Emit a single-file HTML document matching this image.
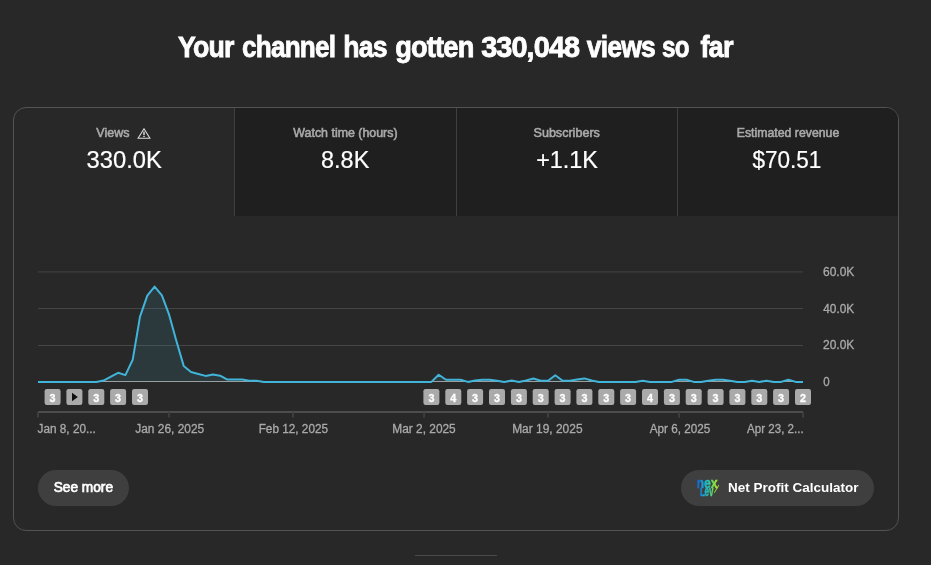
<!DOCTYPE html>
<html lang="en"><head><meta charset="utf-8"><title>Channel analytics</title>
<style>
html,body{margin:0;padding:0;background:#282828;}
body{width:931px;height:565px;position:relative;overflow:hidden;font-family:"Liberation Sans", sans-serif;}
.abs{position:absolute;}
.t{position:absolute;display:block;text-align:center;white-space:nowrap;}
h1{margin:0;font:inherit;}
.card{position:absolute;left:13px;top:107px;width:884px;height:422px;border:1px solid #535353;border-radius:13px;overflow:hidden;background:#282828;}
.tab{position:absolute;top:0;height:108px;background:#1f1f1f;}
.div{position:absolute;top:0;width:1px;height:108px;background:#3f3f3f;}
.btn{position:absolute;height:36px;border-radius:18px;background:#3f3f3f;}
</style></head><body>
<div class="card">
  <div class="tab" style="left:221px;width:663px"></div>
  <div class="div" style="left:220px"></div>
  <div class="div" style="left:442px"></div>
  <div class="div" style="left:663px"></div>
</div>
<svg class="abs" style="left:0;top:0" width="931" height="565" viewBox="0 0 931 565">
<rect x="38" y="271.4" width="765" height="1" fill="#454545"/>
<rect x="38" y="308.0" width="765" height="1" fill="#454545"/>
<rect x="38" y="345.0" width="765" height="1" fill="#454545"/>
<path d="M38.0 381.9 L45.3 381.9 L52.6 381.9 L59.9 381.9 L67.1 381.9 L74.4 381.9 L81.7 381.9 L89.0 381.9 L96.3 381.9 L103.6 380.6 L110.9 376.7 L118.1 372.8 L125.4 375.1 L132.7 359.8 L140.0 316.7 L147.3 295.7 L154.6 286.6 L161.9 295.3 L169.1 314.7 L176.4 341.1 L183.7 365.9 L191.0 372.0 L198.3 374.0 L205.6 375.9 L212.9 374.6 L220.1 375.7 L227.4 379.6 L234.7 379.6 L242.0 379.6 L249.3 380.8 L256.6 380.8 L263.9 381.9 L271.1 381.9 L278.4 381.9 L285.7 381.9 L293.0 381.9 L300.3 381.9 L307.6 381.9 L314.9 381.9 L322.1 381.9 L329.4 381.9 L336.7 381.9 L344.0 381.9 L351.3 381.9 L358.6 381.9 L365.9 381.9 L373.1 381.9 L380.4 381.9 L387.7 381.9 L395.0 381.9 L402.3 381.9 L409.6 381.9 L416.9 381.9 L424.1 381.9 L431.4 381.9 L438.7 374.7 L446.0 379.8 L453.3 379.8 L460.6 379.8 L467.9 381.9 L475.1 380.6 L482.4 379.8 L489.7 379.8 L497.0 380.7 L504.3 381.9 L511.6 380.6 L518.9 381.9 L526.1 380.5 L533.4 378.5 L540.7 380.7 L548.0 380.7 L555.3 375.3 L562.6 380.7 L569.9 380.7 L577.1 379.6 L584.4 378.4 L591.7 380.5 L599.0 381.9 L606.3 381.9 L613.6 381.9 L620.9 381.9 L628.1 381.9 L635.4 381.9 L642.7 380.7 L650.0 381.9 L657.3 381.9 L664.6 381.9 L671.9 381.9 L679.1 379.8 L686.4 379.8 L693.7 381.9 L701.0 381.9 L708.3 380.7 L715.6 379.8 L722.9 379.8 L730.1 380.7 L737.4 381.9 L744.7 381.9 L752.0 380.7 L759.3 381.9 L766.6 380.7 L773.9 381.9 L781.1 381.9 L788.4 379.8 L795.7 381.9 L803.0 381.9 L803 382 L38 382 Z" fill="#41b4d9" fill-opacity="0.12"/>
<rect x="38" y="381" width="765" height="1" fill="#9a9fa0"/>
<path d="M38.0 381.9 L45.3 381.9 L52.6 381.9 L59.9 381.9 L67.1 381.9 L74.4 381.9 L81.7 381.9 L89.0 381.9 L96.3 381.9 L103.6 380.6 L110.9 376.7 L118.1 372.8 L125.4 375.1 L132.7 359.8 L140.0 316.7 L147.3 295.7 L154.6 286.6 L161.9 295.3 L169.1 314.7 L176.4 341.1 L183.7 365.9 L191.0 372.0 L198.3 374.0 L205.6 375.9 L212.9 374.6 L220.1 375.7 L227.4 379.6 L234.7 379.6 L242.0 379.6 L249.3 380.8 L256.6 380.8 L263.9 381.9 L271.1 381.9 L278.4 381.9 L285.7 381.9 L293.0 381.9 L300.3 381.9 L307.6 381.9 L314.9 381.9 L322.1 381.9 L329.4 381.9 L336.7 381.9 L344.0 381.9 L351.3 381.9 L358.6 381.9 L365.9 381.9 L373.1 381.9 L380.4 381.9 L387.7 381.9 L395.0 381.9 L402.3 381.9 L409.6 381.9 L416.9 381.9 L424.1 381.9 L431.4 381.9 L438.7 374.7 L446.0 379.8 L453.3 379.8 L460.6 379.8 L467.9 381.9 L475.1 380.6 L482.4 379.8 L489.7 379.8 L497.0 380.7 L504.3 381.9 L511.6 380.6 L518.9 381.9 L526.1 380.5 L533.4 378.5 L540.7 380.7 L548.0 380.7 L555.3 375.3 L562.6 380.7 L569.9 380.7 L577.1 379.6 L584.4 378.4 L591.7 380.5 L599.0 381.9 L606.3 381.9 L613.6 381.9 L620.9 381.9 L628.1 381.9 L635.4 381.9 L642.7 380.7 L650.0 381.9 L657.3 381.9 L664.6 381.9 L671.9 381.9 L679.1 379.8 L686.4 379.8 L693.7 381.9 L701.0 381.9 L708.3 380.7 L715.6 379.8 L722.9 379.8 L730.1 380.7 L737.4 381.9 L744.7 381.9 L752.0 380.7 L759.3 381.9 L766.6 380.7 L773.9 381.9 L781.1 381.9 L788.4 379.8 L795.7 381.9 L803.0 381.9" fill="none" stroke="#41b4d9" stroke-width="2" stroke-linejoin="round" stroke-linecap="butt"/>
<rect x="38" y="411" width="765" height="2" fill="#4d4d4d"/>
<rect x="37.0" y="412" width="2" height="5.6" fill="#3e3e3e"/>
<rect x="168.1" y="412" width="2" height="5.6" fill="#3e3e3e"/>
<rect x="292.0" y="412" width="2" height="5.6" fill="#3e3e3e"/>
<rect x="423.1" y="412" width="2" height="5.6" fill="#3e3e3e"/>
<rect x="547.0" y="412" width="2" height="5.6" fill="#3e3e3e"/>
<rect x="678.1" y="412" width="2" height="5.6" fill="#3e3e3e"/>
<rect x="802.0" y="412" width="2" height="5.6" fill="#3e3e3e"/>
<rect x="44.6" y="389" width="16" height="16" rx="2.2" fill="#aaaaaa"/>
<text transform="translate(52.6 401.5) scale(1.08 1)" text-anchor="middle" font-family="Liberation Sans, sans-serif" font-weight="700" font-size="10.0" fill="#ffffff" stroke="#ffffff" stroke-width="0.3">3</text>
<rect x="66.4" y="389" width="16" height="16" rx="2.2" fill="#aaaaaa"/>
<path d="M72.0 392.8 L72.0 401.2 L77.8 397 Z" fill="#0f0f0f"/>
<rect x="88.3" y="389" width="16" height="16" rx="2.2" fill="#aaaaaa"/>
<text transform="translate(96.3 401.5) scale(1.08 1)" text-anchor="middle" font-family="Liberation Sans, sans-serif" font-weight="700" font-size="10.0" fill="#ffffff" stroke="#ffffff" stroke-width="0.3">3</text>
<rect x="110.1" y="389" width="16" height="16" rx="2.2" fill="#aaaaaa"/>
<text transform="translate(118.1 401.5) scale(1.08 1)" text-anchor="middle" font-family="Liberation Sans, sans-serif" font-weight="700" font-size="10.0" fill="#ffffff" stroke="#ffffff" stroke-width="0.3">3</text>
<rect x="132.0" y="389" width="16" height="16" rx="2.2" fill="#aaaaaa"/>
<text transform="translate(140.0 401.5) scale(1.08 1)" text-anchor="middle" font-family="Liberation Sans, sans-serif" font-weight="700" font-size="10.0" fill="#ffffff" stroke="#ffffff" stroke-width="0.3">3</text>
<rect x="423.4" y="389" width="16" height="16" rx="2.2" fill="#aaaaaa"/>
<text transform="translate(431.4 401.5) scale(1.08 1)" text-anchor="middle" font-family="Liberation Sans, sans-serif" font-weight="700" font-size="10.0" fill="#ffffff" stroke="#ffffff" stroke-width="0.3">3</text>
<rect x="445.3" y="389" width="16" height="16" rx="2.2" fill="#aaaaaa"/>
<text transform="translate(453.3 401.5) scale(1.08 1)" text-anchor="middle" font-family="Liberation Sans, sans-serif" font-weight="700" font-size="10.0" fill="#ffffff" stroke="#ffffff" stroke-width="0.3">4</text>
<rect x="467.1" y="389" width="16" height="16" rx="2.2" fill="#aaaaaa"/>
<text transform="translate(475.1 401.5) scale(1.08 1)" text-anchor="middle" font-family="Liberation Sans, sans-serif" font-weight="700" font-size="10.0" fill="#ffffff" stroke="#ffffff" stroke-width="0.3">3</text>
<rect x="489.0" y="389" width="16" height="16" rx="2.2" fill="#aaaaaa"/>
<text transform="translate(497.0 401.5) scale(1.08 1)" text-anchor="middle" font-family="Liberation Sans, sans-serif" font-weight="700" font-size="10.0" fill="#ffffff" stroke="#ffffff" stroke-width="0.3">3</text>
<rect x="510.9" y="389" width="16" height="16" rx="2.2" fill="#aaaaaa"/>
<text transform="translate(518.9 401.5) scale(1.08 1)" text-anchor="middle" font-family="Liberation Sans, sans-serif" font-weight="700" font-size="10.0" fill="#ffffff" stroke="#ffffff" stroke-width="0.3">3</text>
<rect x="532.7" y="389" width="16" height="16" rx="2.2" fill="#aaaaaa"/>
<text transform="translate(540.7 401.5) scale(1.08 1)" text-anchor="middle" font-family="Liberation Sans, sans-serif" font-weight="700" font-size="10.0" fill="#ffffff" stroke="#ffffff" stroke-width="0.3">3</text>
<rect x="554.6" y="389" width="16" height="16" rx="2.2" fill="#aaaaaa"/>
<text transform="translate(562.6 401.5) scale(1.08 1)" text-anchor="middle" font-family="Liberation Sans, sans-serif" font-weight="700" font-size="10.0" fill="#ffffff" stroke="#ffffff" stroke-width="0.3">3</text>
<rect x="576.4" y="389" width="16" height="16" rx="2.2" fill="#aaaaaa"/>
<text transform="translate(584.4 401.5) scale(1.08 1)" text-anchor="middle" font-family="Liberation Sans, sans-serif" font-weight="700" font-size="10.0" fill="#ffffff" stroke="#ffffff" stroke-width="0.3">3</text>
<rect x="598.3" y="389" width="16" height="16" rx="2.2" fill="#aaaaaa"/>
<text transform="translate(606.3 401.5) scale(1.08 1)" text-anchor="middle" font-family="Liberation Sans, sans-serif" font-weight="700" font-size="10.0" fill="#ffffff" stroke="#ffffff" stroke-width="0.3">3</text>
<rect x="620.1" y="389" width="16" height="16" rx="2.2" fill="#aaaaaa"/>
<text transform="translate(628.1 401.5) scale(1.08 1)" text-anchor="middle" font-family="Liberation Sans, sans-serif" font-weight="700" font-size="10.0" fill="#ffffff" stroke="#ffffff" stroke-width="0.3">3</text>
<rect x="642.0" y="389" width="16" height="16" rx="2.2" fill="#aaaaaa"/>
<text transform="translate(650.0 401.5) scale(1.08 1)" text-anchor="middle" font-family="Liberation Sans, sans-serif" font-weight="700" font-size="10.0" fill="#ffffff" stroke="#ffffff" stroke-width="0.3">4</text>
<rect x="663.9" y="389" width="16" height="16" rx="2.2" fill="#aaaaaa"/>
<text transform="translate(671.9 401.5) scale(1.08 1)" text-anchor="middle" font-family="Liberation Sans, sans-serif" font-weight="700" font-size="10.0" fill="#ffffff" stroke="#ffffff" stroke-width="0.3">3</text>
<rect x="685.7" y="389" width="16" height="16" rx="2.2" fill="#aaaaaa"/>
<text transform="translate(693.7 401.5) scale(1.08 1)" text-anchor="middle" font-family="Liberation Sans, sans-serif" font-weight="700" font-size="10.0" fill="#ffffff" stroke="#ffffff" stroke-width="0.3">3</text>
<rect x="707.6" y="389" width="16" height="16" rx="2.2" fill="#aaaaaa"/>
<text transform="translate(715.6 401.5) scale(1.08 1)" text-anchor="middle" font-family="Liberation Sans, sans-serif" font-weight="700" font-size="10.0" fill="#ffffff" stroke="#ffffff" stroke-width="0.3">3</text>
<rect x="729.4" y="389" width="16" height="16" rx="2.2" fill="#aaaaaa"/>
<text transform="translate(737.4 401.5) scale(1.08 1)" text-anchor="middle" font-family="Liberation Sans, sans-serif" font-weight="700" font-size="10.0" fill="#ffffff" stroke="#ffffff" stroke-width="0.3">3</text>
<rect x="751.3" y="389" width="16" height="16" rx="2.2" fill="#aaaaaa"/>
<text transform="translate(759.3 401.5) scale(1.08 1)" text-anchor="middle" font-family="Liberation Sans, sans-serif" font-weight="700" font-size="10.0" fill="#ffffff" stroke="#ffffff" stroke-width="0.3">3</text>
<rect x="773.1" y="389" width="16" height="16" rx="2.2" fill="#aaaaaa"/>
<text transform="translate(781.1 401.5) scale(1.08 1)" text-anchor="middle" font-family="Liberation Sans, sans-serif" font-weight="700" font-size="10.0" fill="#ffffff" stroke="#ffffff" stroke-width="0.3">3</text>
<rect x="795.0" y="389" width="16" height="16" rx="2.2" fill="#aaaaaa"/>
<text transform="translate(803.0 401.5) scale(1.08 1)" text-anchor="middle" font-family="Liberation Sans, sans-serif" font-weight="700" font-size="10.0" fill="#ffffff" stroke="#ffffff" stroke-width="0.3">2</text>
</svg>
<div class="btn" style="left:38px;top:470px;width:91px"></div>
<div class="btn" style="left:681px;top:470px;width:193px"></div>
<svg class="abs" style="left:136px;top:126px" width="16" height="14" viewBox="0 0 16 14"><path d="M8 2.8 L13.9 12.15 L2.1 12.15 Z" fill="none" stroke="#dcdcdc" stroke-width="1.05" stroke-linejoin="miter"/><rect x="7.3" y="5.6" width="1.4" height="3.5" fill="#e4e4e4"/><rect x="7.3" y="9.9" width="1.4" height="1.1" fill="#e4e4e4"/></svg>
<svg class="abs" style="left:694px;top:476px" width="30" height="24" viewBox="0 0 30 24">
<defs><linearGradient id="lg" gradientUnits="userSpaceOnUse" x1="2.5" y1="0" x2="24" y2="0"><stop offset="0" stop-color="#1458c8"/><stop offset="0.3" stop-color="#1a9fd8"/><stop offset="0.55" stop-color="#22c8b8"/><stop offset="0.8" stop-color="#7fe048"/><stop offset="1" stop-color="#b8ec2c"/></linearGradient></defs>
<g fill="url(#lg)" stroke="url(#lg)" stroke-width="0.45" font-family="Liberation Sans, sans-serif" font-weight="700">
<text x="2.4" y="12.1" font-size="15.5" textLength="21.2" lengthAdjust="spacingAndGlyphs">nex</text>
<text x="5.9" y="20" font-size="11.4" textLength="5" lengthAdjust="spacingAndGlyphs">L</text>
<text x="10.4" y="20" font-size="15" textLength="9" lengthAdjust="spacingAndGlyphs">ev</text>
<path d="M19.9 16.6 L24.6 8.8 L25.1 9.4 L20.6 16.9 Z" stroke="none"/>
</g></svg>
<h1>
<span class="t" style="left:-194.22px;top:28.28px;width:800px;height:38px;line-height:38px;font-size:29.5px;font-weight:700;color:#ffffff;"><span id="tw0" style="display:inline-block;white-space:nowrap;transform:scaleX(0.9049);letter-spacing:-0.9px;-webkit-text-stroke:0.8px #fff;">Your</span></span>
<span class="t" style="left:-111.79px;top:28.28px;width:800px;height:38px;line-height:38px;font-size:29.5px;font-weight:700;color:#ffffff;"><span id="tw1" style="display:inline-block;white-space:nowrap;transform:scaleX(0.8856);letter-spacing:-0.9px;-webkit-text-stroke:0.8px #fff;">channel</span></span>
<span class="t" style="left:-34.55px;top:28.28px;width:800px;height:38px;line-height:38px;font-size:29.5px;font-weight:700;color:#ffffff;"><span id="tw2" style="display:inline-block;white-space:nowrap;transform:scaleX(0.9031);letter-spacing:-0.9px;-webkit-text-stroke:0.8px #fff;">has</span></span>
<span class="t" style="left:34.37px;top:28.28px;width:800px;height:38px;line-height:38px;font-size:29.5px;font-weight:700;color:#ffffff;"><span id="tw3" style="display:inline-block;white-space:nowrap;transform:scaleX(0.9240);letter-spacing:-0.9px;-webkit-text-stroke:0.8px #fff;">gotten</span></span>
<span class="t" style="left:130.09px;top:28.28px;width:800px;height:38px;line-height:38px;font-size:29.5px;font-weight:700;color:#ffffff;"><span id="tw4" style="display:inline-block;white-space:nowrap;transform:scaleX(0.9773);letter-spacing:-0.9px;-webkit-text-stroke:0.8px #fff;">330,048</span></span>
<span class="t" style="left:221.19px;top:28.28px;width:800px;height:38px;line-height:38px;font-size:29.5px;font-weight:700;color:#ffffff;"><span id="tw5" style="display:inline-block;white-space:nowrap;transform:scaleX(0.8991);letter-spacing:-0.9px;-webkit-text-stroke:0.8px #fff;">views</span></span>
<span class="t" style="left:275.36px;top:28.28px;width:800px;height:38px;line-height:38px;font-size:29.5px;font-weight:700;color:#ffffff;"><span id="tw6" style="display:inline-block;white-space:nowrap;transform:scaleX(0.8233);letter-spacing:-0.9px;-webkit-text-stroke:0.8px #fff;">so</span></span>
<span class="t" style="left:316.24px;top:28.28px;width:800px;height:38px;line-height:38px;font-size:29.5px;font-weight:700;color:#ffffff;"><span id="tw7" style="display:inline-block;white-space:nowrap;transform:scaleX(0.9211);letter-spacing:-0.9px;-webkit-text-stroke:0.8px #fff;">far</span></span>
</h1>
<span class="t" style="left:-286.74px;top:125.23px;width:800px;height:16px;line-height:16px;font-size:12px;font-weight:400;color:#aaaaaa;"><span id="l1" style="display:inline-block;white-space:nowrap;transform:scaleX(1.0417);-webkit-text-stroke:0.55px #aaaaaa;">Views</span></span>
<span class="t" style="left:-54.54px;top:125.23px;width:800px;height:16px;line-height:16px;font-size:12px;font-weight:400;color:#aaaaaa;"><span id="l2" style="display:inline-block;white-space:nowrap;transform:scaleX(1.0330);-webkit-text-stroke:0.55px #aaaaaa;">Watch time (hours)</span></span>
<span class="t" style="left:166.59px;top:125.23px;width:800px;height:16px;line-height:16px;font-size:12px;font-weight:400;color:#aaaaaa;"><span id="l3" style="display:inline-block;white-space:nowrap;transform:scaleX(1.0470);-webkit-text-stroke:0.55px #aaaaaa;">Subscribers</span></span>
<span class="t" style="left:388.15px;top:125.23px;width:800px;height:16px;line-height:16px;font-size:12px;font-weight:400;color:#aaaaaa;"><span id="l4" style="display:inline-block;white-space:nowrap;transform:scaleX(1.0249);-webkit-text-stroke:0.55px #aaaaaa;">Estimated revenue</span></span>
<span class="t" style="left:-275.36px;top:145.14px;width:800px;height:31px;line-height:31px;font-size:23.5px;font-weight:400;color:#ffffff;"><span id="v1" style="display:inline-block;white-space:nowrap;transform:scaleX(1.0103);-webkit-text-stroke:0.2px #ffffff;">330.0K</span></span>
<span class="t" style="left:-54.75px;top:145.14px;width:800px;height:31px;line-height:31px;font-size:23.5px;font-weight:400;color:#ffffff;"><span id="v2" style="display:inline-block;white-space:nowrap;transform:scaleX(0.9972);-webkit-text-stroke:0.2px #ffffff;">8.8K</span></span>
<span class="t" style="left:166.57px;top:145.14px;width:800px;height:31px;line-height:31px;font-size:23.5px;font-weight:400;color:#ffffff;"><span id="v3" style="display:inline-block;white-space:nowrap;transform:scaleX(0.9931);-webkit-text-stroke:0.2px #ffffff;">+1.1K</span></span>
<span class="t" style="left:387.05px;top:145.14px;width:800px;height:31px;line-height:31px;font-size:23.5px;font-weight:400;color:#ffffff;"><span id="v4" style="display:inline-block;white-space:nowrap;transform:scaleX(0.9586);-webkit-text-stroke:0.2px #ffffff;">$70.51</span></span>
<span class="t" style="left:438.90px;top:263.74px;width:800px;height:16px;line-height:16px;font-size:12px;font-weight:400;color:#aaaaaa;"><span id="y1" style="display:inline-block;white-space:nowrap;transform:scaleX(1.0012);-webkit-text-stroke:0.3px #aaaaaa;">60.0K</span></span>
<span class="t" style="left:438.60px;top:300.74px;width:800px;height:16px;line-height:16px;font-size:12px;font-weight:400;color:#aaaaaa;"><span id="y2" style="display:inline-block;white-space:nowrap;transform:scaleX(0.9849);-webkit-text-stroke:0.3px #aaaaaa;">40.0K</span></span>
<span class="t" style="left:438.90px;top:337.43px;width:800px;height:16px;line-height:16px;font-size:12px;font-weight:400;color:#aaaaaa;"><span id="y3" style="display:inline-block;white-space:nowrap;transform:scaleX(0.9983);-webkit-text-stroke:0.3px #aaaaaa;">20.0K</span></span>
<span class="t" style="left:426.43px;top:374.29px;width:800px;height:16px;line-height:16px;font-size:12px;font-weight:400;color:#aaaaaa;"><span id="y4" style="display:inline-block;white-space:nowrap;transform:scaleX(0.9589);-webkit-text-stroke:0.3px #aaaaaa;">0</span></span>
<span class="t" style="left:-332.88px;top:420.92px;width:800px;height:16px;line-height:16px;font-size:12px;font-weight:400;color:#aaaaaa;"><span id="d1" style="display:inline-block;white-space:nowrap;transform:scaleX(0.9812);-webkit-text-stroke:0.3px #aaaaaa;">Jan 8, 20...</span></span>
<span class="t" style="left:-230.74px;top:420.92px;width:800px;height:16px;line-height:16px;font-size:12px;font-weight:400;color:#aaaaaa;"><span id="d2" style="display:inline-block;white-space:nowrap;transform:scaleX(0.9923);-webkit-text-stroke:0.3px #aaaaaa;">Jan 26, 2025</span></span>
<span class="t" style="left:-106.71px;top:420.92px;width:800px;height:16px;line-height:16px;font-size:12px;font-weight:400;color:#aaaaaa;"><span id="d3" style="display:inline-block;white-space:nowrap;transform:scaleX(0.9807);-webkit-text-stroke:0.3px #aaaaaa;">Feb 12, 2025</span></span>
<span class="t" style="left:23.69px;top:420.92px;width:800px;height:16px;line-height:16px;font-size:12px;font-weight:400;color:#aaaaaa;"><span id="d4" style="display:inline-block;white-space:nowrap;transform:scaleX(0.9902);-webkit-text-stroke:0.3px #aaaaaa;">Mar 2, 2025</span></span>
<span class="t" style="left:147.70px;top:420.92px;width:800px;height:16px;line-height:16px;font-size:12px;font-weight:400;color:#aaaaaa;"><span id="d5" style="display:inline-block;white-space:nowrap;transform:scaleX(0.9950);-webkit-text-stroke:0.3px #aaaaaa;">Mar 19, 2025</span></span>
<span class="t" style="left:279.76px;top:420.92px;width:800px;height:16px;line-height:16px;font-size:12px;font-weight:400;color:#aaaaaa;"><span id="d6" style="display:inline-block;white-space:nowrap;transform:scaleX(0.9761);-webkit-text-stroke:0.3px #aaaaaa;">Apr 6, 2025</span></span>
<span class="t" style="left:375.47px;top:420.92px;width:800px;height:16px;line-height:16px;font-size:12px;font-weight:400;color:#aaaaaa;"><span id="d7" style="display:inline-block;white-space:nowrap;transform:scaleX(0.9626);-webkit-text-stroke:0.3px #aaaaaa;">Apr 23, 2...</span></span>
<span class="t" style="left:-316.83px;top:477.75px;width:800px;height:18px;line-height:18px;font-size:14px;font-weight:400;color:#ffffff;"><span id="b1" style="display:inline-block;white-space:nowrap;transform:scaleX(0.9771);-webkit-text-stroke:0.7px #fff;">See more</span></span>
<span class="t" style="left:392.82px;top:478.72px;width:800px;height:18px;line-height:18px;font-size:13.5px;font-weight:700;color:#ffffff;"><span id="b2" style="display:inline-block;white-space:nowrap;transform:scaleX(0.9990);-webkit-text-stroke:0.0px #ffffff;">Net Profit Calculator</span></span>
<div class="abs" style="left:415px;top:555px;width:82px;height:1px;background:#4a4a4a"></div>
</body></html>
